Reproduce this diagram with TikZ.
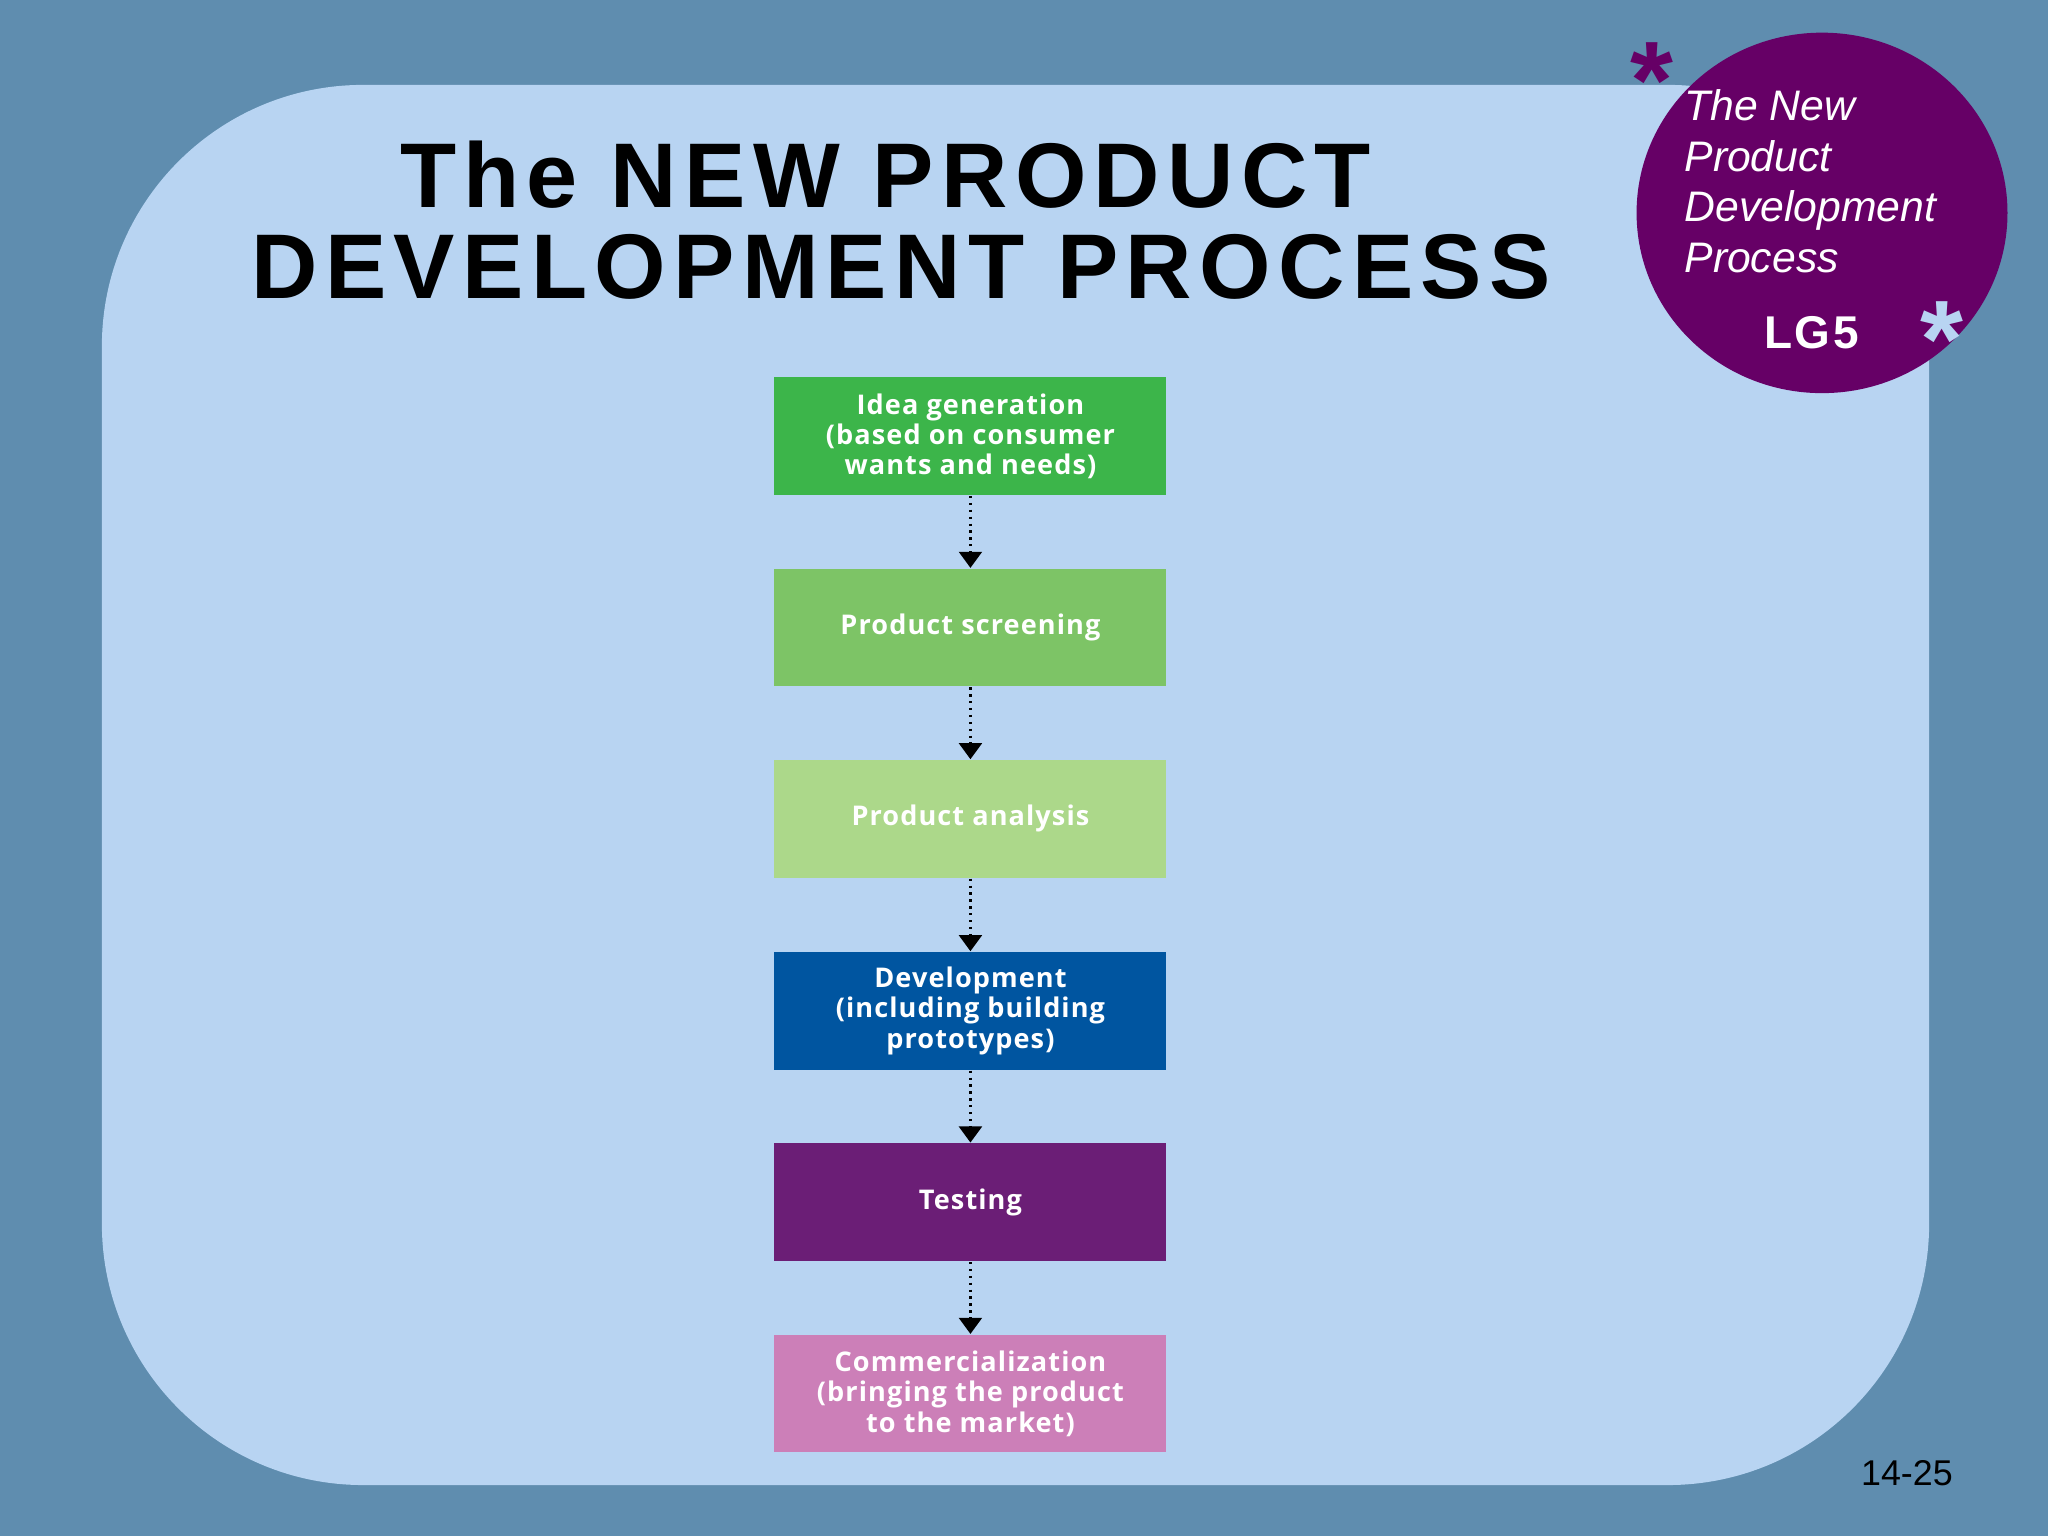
\documentclass[tikz,border=0pt]{standalone}
\usepackage{fontspec}
\setmainfont{Liberation Sans}
\newfontfamily\boxfont[LetterSpace=4]{Open Sans}
\usetikzlibrary{arrows.meta}
\definecolor{bg}{HTML}{5F8DAF}
\definecolor{panel}{HTML}{B8D4F2}
\definecolor{circ}{HTML}{660066}
\definecolor{cA}{HTML}{3CB54A}
\definecolor{cB}{HTML}{7DC466}
\definecolor{cC}{HTML}{ACD88A}
\definecolor{cD}{HTML}{0055A0}
\definecolor{cE}{HTML}{6B1E76}
\definecolor{cF}{HTML}{CC7FB8}
\tikzset{
 stepbox/.style={minimum width=3cm,minimum height=0.9cm,inner sep=0pt,text=white,align=center,
   font=\boxfont\bfseries\fontsize{5.9}{6.6}\selectfont},
 flow/.style={densely dotted,line width=0.5pt,-{Triangle[width=5pt,length=3.5pt]}},
 ttl/.style={font=\bfseries\fontsize{20}{24}\selectfont\addfontfeatures{LetterSpace=8},inner sep=0pt}
}
\begin{document}
\begin{tikzpicture}[x=0.01cm,y=-0.01cm]
\useasboundingbox (0,0) rectangle (1568,1176);
\fill[bg] (0,0) rectangle (1568,1176);
\fill[panel,rounded corners=2cm] (78,65) rectangle (1477,1137);
\node[ttl] (title1) at (678,134) {The NEW PRODUCT};
\node[ttl] (title2) at (690,204) {DEVELOPMENT PROCESS};
\fill[circ] (1395,163) ellipse (142 and 138);
\node[anchor=north west,text=white,font=\itshape\fontsize{9.3}{11}\selectfont,align=left,inner sep=0pt] (ct) at (1289,68)
 {The New\\Product\\Development\\Process};
\node[text=white,font=\bfseries\fontsize{10}{12}\selectfont\addfontfeatures{LetterSpace=6}] (lg) at (1387,255) {LG5};
\node[text=circ,font=\bfseries\fontsize{24}{24}\selectfont] (s1) at (1265,62) {*};
\node[text=panel,font=\bfseries\fontsize{24}{24}\selectfont] (s2) at (1487,260) {*};
\node[stepbox,fill=cA] (b1) at (743,334) {Idea generation\\(based on consumer\\wants and needs)};
\node[stepbox,fill=cB] (b2) at (743,480.5) {Product screening};
\node[stepbox,fill=cC] (b3) at (743,627) {Product analysis};
\node[stepbox,fill=cD] (b4) at (743,774) {Development\\(including building\\prototypes)};
\node[stepbox,fill=cE] (b5) at (743,920.5) {Testing};
\node[stepbox,fill=cF] (b6) at (743,1067) {Commercialization\\(bringing the product\\to the market)};
\foreach \a/\b in {b1/b2,b2/b3,b3/b4,b4/b5,b5/b6} \draw[flow] (\a) -- (\b);
\node[font=\fontsize{7.8}{9}\selectfont] (pg) at (1460,1128) {14-25};
\end{tikzpicture}
\end{document}
